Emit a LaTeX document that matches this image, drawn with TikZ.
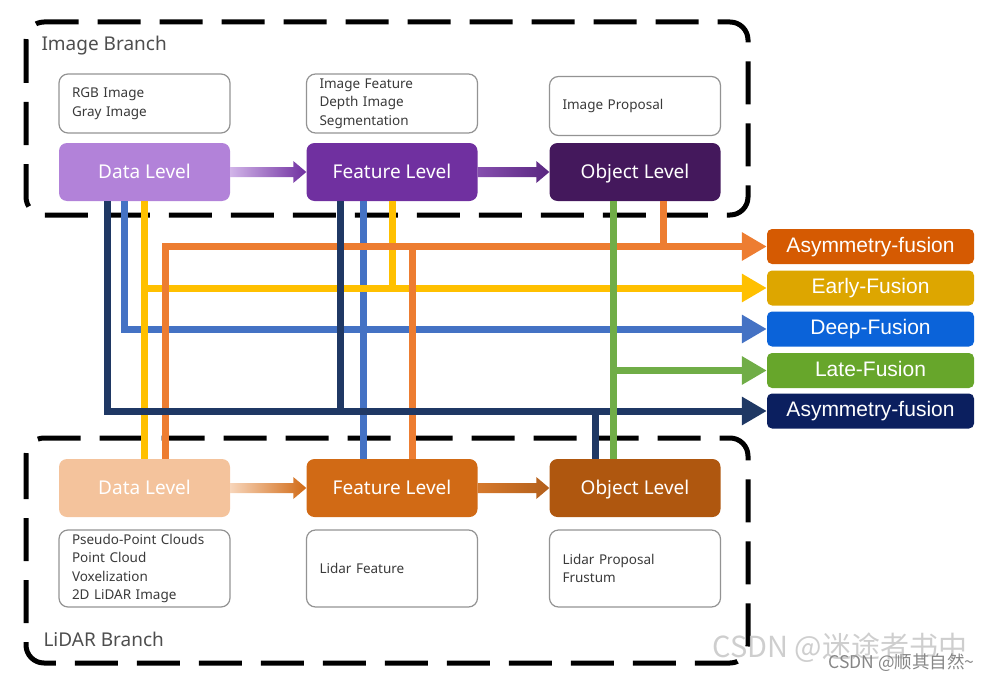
\documentclass[tikz,border=0pt]{standalone}
\usepackage{fontspec}
\setmainfont{Noto Sans}
\newfontfamily\arialf{Liberation Sans}
\newfontfamily\cjkf{Noto Sans CJK SC}
\usetikzlibrary{arrows.meta}
\definecolor{imgdata}{HTML}{B282D9}
\definecolor{imgfeat}{HTML}{7030A0}
\definecolor{imgobj}{HTML}{44185C}
\definecolor{lidata}{HTML}{F4C39C}
\definecolor{lifeat}{HTML}{D16A15}
\definecolor{liobj}{HTML}{AF570F}
\definecolor{cOrange}{HTML}{ED7D31}
\definecolor{cYellow}{HTML}{FFC000}
\definecolor{cBlue}{HTML}{4472C4}
\definecolor{cGreen}{HTML}{70AD47}
\definecolor{cNavy}{HTML}{1F3864}
\definecolor{fOrange}{HTML}{D55A02}
\definecolor{fYellow}{HTML}{DDA600}
\definecolor{fBlue}{HTML}{0B63D9}
\definecolor{fGreen}{HTML}{67A62B}
\definecolor{fNavy}{HTML}{0B1F5F}
\definecolor{txt}{HTML}{3A3A3A}
\begin{document}
\begin{tikzpicture}[x=1pt,y=-1pt,
  level/.style={rounded corners=8pt, minimum width=171pt, minimum height=58pt, inner sep=0pt, text height=17pt, text depth=4pt, text=white, font=\fontsize{19}{22}\selectfont},
  info/.style={draw=gray!85, line width=1.2pt, rounded corners=9pt, minimum width=171pt, inner xsep=13pt, inner ysep=0pt, text width=145pt, align=left, text=txt, font=\fontsize{13.5}{18.5}\selectfont},
  fusion/.style={rounded corners=5pt, minimum width=207pt, minimum height=35pt, inner sep=0pt, text height=15pt, text depth=4pt, text=white, font=\arialf\fontsize{21}{24}\selectfont},
  branch/.style={line width=5pt, dash pattern=on 43pt off 19pt, rounded corners=18pt},
  conn/.style={line width=7pt},
  tip/.style={-{Triangle[length=25pt,width=27pt]}},
  blabel/.style={anchor=west, text=txt!90, font=\fontsize{19}{20}\selectfont}
]
\useasboundingbox (0,0) rectangle (1000,682);

% branch frames
\draw[branch] (26,22) rectangle (748,215);
\draw[branch] (26,438) rectangle (748,663);
\node[blabel] (lblimg) at (38,46) {Image Branch};
\node[blabel] (lbllid) at (40,639) {LiDAR Branch};

% level nodes
\node[level, fill=imgdata] (idata) at (144.5,172) {Data Level};
\node[level, fill=imgfeat] (ifeat) at (392,172) {Feature Level};
\node[level, fill=imgobj]  (iobj)  at (635,172) {Object Level};
\node[level, fill=lidata]  (ldata) at (144.5,488) {Data Level};
\node[level, fill=lifeat]  (lfeat) at (392,488) {Feature Level};
\node[level, fill=liobj]   (lobj)  at (635,488) {Object Level};

% info boxes
\node[info, minimum height=59pt] (tdata) at (144.5,103.5) {RGB Image\\Gray Image};
\node[info, minimum height=59pt] (tfeat) at (392,103.5) {Image Feature\\Depth Image\\Segmentation};
\node[info, minimum height=59pt] (tobj)  at (635,106) {Image Proposal};
\node[info, minimum height=77pt] (bdata) at (144.5,568.5) {Pseudo-Point Clouds\\Point Cloud\\Voxelization\\2D LiDAR Image};
\node[info, minimum height=77pt] (bfeat) at (392,568.5) {Lidar Feature};
\node[info, minimum height=77pt] (bobj)  at (635,568.5) {Lidar Proposal\\Frustum};

% fusion nodes
\node[fusion, fill=fOrange] (fo) at (870.5,246.5) {Asymmetry-fusion};
\node[fusion, fill=fYellow] (fy) at (870.5,288) {Early-Fusion};
\node[fusion, fill=fBlue]   (fb) at (870.5,329) {Deep-Fusion};
\node[fusion, fill=fGreen]  (fg) at (870.5,370.5) {Late-Fusion};
\node[fusion, fill=fNavy]   (fn) at (870.5,411) {Asymmetry-fusion};

% level arrows (gradient)
\shade[left color=imgdata!60, right color=imgfeat]
  ([yshift=5pt]idata.east) -- ([xshift=-13pt,yshift=5pt]ifeat.west) -- ([xshift=-13pt,yshift=11pt]ifeat.west)
  -- (ifeat.west) -- ([xshift=-13pt,yshift=-11pt]ifeat.west) -- ([xshift=-13pt,yshift=-5pt]ifeat.west)
  -- ([yshift=-5pt]idata.east) -- cycle;
\shade[left color=imgfeat!85, right color=imgfeat!80!black]
  ([yshift=5pt]ifeat.east) -- ([xshift=-13pt,yshift=5pt]iobj.west) -- ([xshift=-13pt,yshift=11pt]iobj.west)
  -- (iobj.west) -- ([xshift=-13pt,yshift=-11pt]iobj.west) -- ([xshift=-13pt,yshift=-5pt]iobj.west)
  -- ([yshift=-5pt]ifeat.east) -- cycle;
\shade[left color=lidata!70, right color=lifeat]
  ([yshift=5pt]ldata.east) -- ([xshift=-13pt,yshift=5pt]lfeat.west) -- ([xshift=-13pt,yshift=11pt]lfeat.west)
  -- (lfeat.west) -- ([xshift=-13pt,yshift=-11pt]lfeat.west) -- ([xshift=-13pt,yshift=-5pt]lfeat.west)
  -- ([yshift=-5pt]ldata.east) -- cycle;
\shade[left color=lifeat!90, right color=liobj!95]
  ([yshift=5pt]lfeat.east) -- ([xshift=-13pt,yshift=5pt]lobj.west) -- ([xshift=-13pt,yshift=11pt]lobj.west)
  -- (lobj.west) -- ([xshift=-13pt,yshift=-11pt]lobj.west) -- ([xshift=-13pt,yshift=-5pt]lobj.west)
  -- ([yshift=-5pt]lfeat.east) -- cycle;

% connectors: blue (deep fusion)
\draw[conn, cBlue, tip] ([xshift=-20.5pt]idata.south) |- (fb.west);
\draw[conn, cBlue] ([xshift=-29pt]ifeat.south) -- ([xshift=-29pt]lfeat.north);
% yellow (early fusion)
\draw[conn, cYellow] ([xshift=-0.5pt]idata.south) -- ([xshift=-0.5pt]ldata.north);
\draw[conn, cYellow, tip] ([xshift=-0.5pt]idata.south |- fy.west) -- (fy.west);
\draw[conn, cYellow] (ifeat.south) -- (ifeat.south |- fy.west);
% orange (asymmetry fusion)
\draw[conn, cOrange, tip] ([xshift=20.5pt]ldata.north) |- (fo.west);
\draw[conn, cOrange] ([xshift=20pt]lfeat.north) -- ([xshift=20pt]lfeat.north |- fo.west);
\draw[conn, cOrange] ([xshift=28pt]iobj.south) -- ([xshift=28pt]iobj.south |- fo.west);
% navy (asymmetry fusion)
\draw[conn, cNavy, tip] ([xshift=-37.5pt]idata.south) |- (fn.west);
\draw[conn, cNavy] ([xshift=-52pt]ifeat.south) -- ([xshift=-52pt]ifeat.south |- fn.west);
\draw[conn, cNavy] ([xshift=-40pt]lobj.north) -- ([xshift=-40pt]lobj.north |- fn.west);
% green (late fusion)
\draw[conn, cGreen] ([xshift=-22pt]iobj.south) -- ([xshift=-22pt]lobj.north);
\draw[conn, cGreen, tip] ([xshift=-22pt]iobj.south |- fg.west) -- (fg.west);

% watermarks
\node[anchor=west, text=gray!45, opacity=0.85, font=\cjkf\fontsize{29}{30}\selectfont] (wm1) at (709,648) {CSDN @迷途者书中};
\node[anchor=west, text=gray!95, font=\cjkf\fontsize{17.5}{19}\selectfont] (wm2) at (825,663) {CSDN @顺其自然\textasciitilde};
\end{tikzpicture}
\end{document}
